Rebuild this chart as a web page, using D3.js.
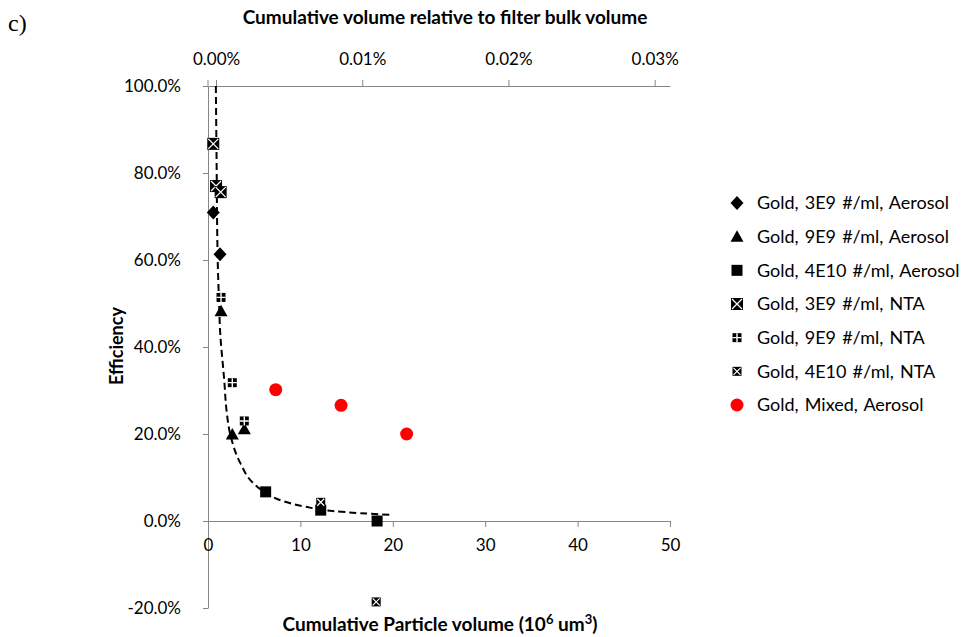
<!DOCTYPE html>
<html><head><meta charset="utf-8">
<script src="https://cdn.jsdelivr.net/npm/d3@7"></script>
<style>body{margin:0;background:#fff}svg{display:block}</style>
</head><body>
<svg id="c" width="970" height="637"></svg>
<script>
// ---- data ----
const xTicks = [0, 10, 20, 30, 40, 50];
const yTicks = [-0.2, 0, 0.2, 0.4, 0.6, 0.8, 1.0];
const topTicks = [0, 0.0001, 0.0002, 0.0003];
const seriesNames = ["Gold, 3E9 #/ml, Aerosol","Gold, 9E9 #/ml, Aerosol","Gold, 4E10 #/ml, Aerosol","Gold, 3E9 #/ml, NTA","Gold, 9E9 #/ml, NTA","Gold, 4E10 #/ml, NTA","Gold, Mixed, Aerosol"];
const s3E9Aer = [[0.57,0.709],[1.30,0.613]];
const s9E9Aer = [[1.41,0.482],[2.63,0.199],[3.93,0.211]];
const s4E10Aer = [[6.24,0.067],[12.2,0.025],[18.3,0.0]];
const s3E9NTA = [[0.57,0.867],[0.87,0.770],[1.37,0.756]];
const s9E9NTA = [[1.41,0.514],[2.63,0.318],[3.93,0.230]];
const s4E10NTA = [[12.2,0.043],[18.2,-0.186]];
const sMixed = [[7.33,0.302],[14.4,0.266],[21.5,0.200]];
const trend = [[0.85,1.0],[0.92,0.85],[1.05,0.60],[1.2,0.50],[1.3,0.44],[1.77,0.32],[2.0,0.255],[2.4,0.20],[3.5,0.133],[4.9,0.087],[6.24,0.065],[8.1,0.046],[10.5,0.033],[13.5,0.023],[16.5,0.018],[19.9,0.014]];

const svg = d3.select("#c");
const FONT = "Lato, 'Open Sans', sans-serif";
const AX = "#868686";
const x = d3.scaleLinear([0,50],[208,670]);
const y = d3.scaleLinear([-0.2,1.0],[608,86]);
const xTop = d3.scaleLinear([-0.0000055,0.0003105],[208,670]);

// "c)" label
svg.append("text").attr("x",8).attr("y",31).attr("font-family","'Liberation Serif', 'DejaVu Serif', serif").attr("font-size",24).text("c)");

function styleAxis(g, fs){
  g.select(".domain").attr("stroke",AX);
  g.selectAll(".tick line").attr("stroke",AX);
  g.selectAll(".tick text").attr("font-family",FONT).attr("font-size",fs).attr("fill","#000");
}
const pct1 = d => d3.format(".1%")(d).replace("\u2212","-");
// y axis
const gy = svg.append("g").attr("transform","translate(208,0)")
  .call(d3.axisLeft(y).tickValues(yTicks).tickSize(5).tickSizeOuter(0).tickPadding(22).tickFormat(pct1));
styleAxis(gy, 17);
// bottom axis at 0
const gx = svg.append("g").attr("transform",`translate(0,${y(0)})`)
  .call(d3.axisBottom(x).tickValues(xTicks).tickSize(6).tickSizeOuter(0).tickPadding(12));
styleAxis(gx, 17);
// top axis
const gt = svg.append("g").attr("transform",`translate(0,${y(1.0)})`)
  .call(d3.axisTop(xTop).tickValues(topTicks).tickSize(6).tickSizeOuter(0).tickPadding(15).tickFormat(d3.format(".2%")));
styleAxis(gt, 17);
svg.append("line").attr("x1",208).attr("x2",208).attr("y1",80).attr("y2",86).attr("stroke",AX);

// titles
svg.append("text").attr("x",445).attr("y",24).attr("text-anchor","middle").attr("font-family",FONT).attr("font-weight","bold").attr("font-size",19).text("Cumulative volume relative to filter bulk volume");
const bt = svg.append("text").attr("x",440).attr("y",631).attr("text-anchor","middle").attr("font-family",FONT).attr("font-weight","bold").attr("font-size",19);
bt.append("tspan").text("Cumulative Particle volume (10");
bt.append("tspan").attr("font-size",13).attr("dy",-7).text("6");
bt.append("tspan").attr("dy",7).text(" um");
bt.append("tspan").attr("font-size",13).attr("dy",-7).text("3");
bt.append("tspan").attr("dy",7).text(")");
svg.append("text").attr("transform","translate(123,346) rotate(-90)").attr("text-anchor","middle").attr("font-family",FONT).attr("font-weight","bold").attr("font-size",18).text("Efficiency");

// trendline
svg.append("path").datum(trend)
  .attr("d", d3.line().x(d=>x(d[0])).y(d=>y(d[1])).curve(d3.curveMonotoneY))
  .attr("fill","none").attr("stroke","#000").attr("stroke-width",2).attr("stroke-dasharray","7,4");

// marker drawers
const markers = [
  (g)=>g.append("path").attr("d","M0,-7L6.5,0L0,7L-6.5,0Z").attr("fill","#000"),
  (g)=>g.append("path").attr("d","M0,-6.5L6.5,5L-6.5,5Z").attr("fill","#000"),
  (g)=>g.append("rect").attr("x",-5.5).attr("y",-5.5).attr("width",11).attr("height",11).attr("fill","#000"),
  (g)=>{g.append("rect").attr("x",-6).attr("y",-6).attr("width",12).attr("height",12).attr("fill","#000");
        g.append("path").attr("d","M-5,-5L5,5M5,-5L-5,5").attr("stroke","#fff").attr("stroke-width",1.3);},
  (g)=>{g.append("rect").attr("x",-4.5).attr("y",-4.5).attr("width",9).attr("height",9).attr("fill","#000");
        g.append("path").attr("d","M0,-4.5V4.5M-4.5,0H4.5").attr("stroke","#fff").attr("stroke-width",1.4);},
  (g)=>{g.append("rect").attr("x",-4.5).attr("y",-4.5).attr("width",9).attr("height",9).attr("fill","#000");
        g.append("path").attr("d","M-3.5,-3.5L3.5,3.5M3.5,-3.5L-3.5,3.5").attr("stroke","#fff").attr("stroke-width",1.2);},
  (g)=>g.append("circle").attr("r",6.5).attr("fill","#ff0000")
];
const allSeries = [s3E9Aer,s9E9Aer,s4E10Aer,s3E9NTA,s9E9NTA,s4E10NTA,sMixed];
allSeries.forEach((s,i)=>{
  s.forEach(d=>{
    const g = svg.append("g").attr("transform",`translate(${x(d[0])},${y(d[1])})`);
    markers[i](g);
  });
});

// legend
const legY = d3.scalePoint().domain(seriesNames).range([203,405]);
seriesNames.forEach((n,i)=>{
  const g = svg.append("g").attr("transform",`translate(737,${legY(n)})`);
  markers[i](g);
  svg.append("text").attr("x",757).attr("y",legY(n)).attr("dy","0.35em").attr("font-family",FONT).attr("font-size",18).attr("word-spacing",1.5).text(n);
});
</script>
</body></html>
